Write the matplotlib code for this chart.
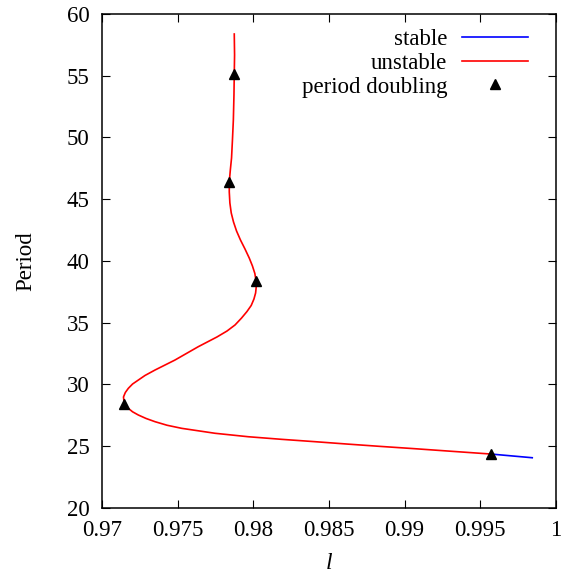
import matplotlib
matplotlib.use("Agg")
import matplotlib.pyplot as plt

plt.rcParams['font.family'] = ['Liberation Serif', 'DejaVu Serif']
plt.rcParams['mathtext.fontset'] = 'custom'
plt.rcParams['mathtext.it'] = 'Liberation Serif:italic'

# Unstable branch (red), from top down to the last period-doubling point
l_unstable = [0.97874, 0.97876, 0.97874, 0.97872, 0.97868, 0.97862, 0.97856, 0.97848,
              0.97841, 0.97841, 0.97845, 0.97854, 0.97869, 0.97889, 0.97915, 0.97945,
              0.97973, 0.97994, 0.98010, 0.98018, 0.98019, 0.98015, 0.98004, 0.97986,
              0.97958, 0.97922, 0.97879, 0.97826, 0.97760, 0.97636, 0.97482, 0.97350,
              0.97284, 0.97240, 0.97202, 0.97174, 0.97154, 0.97142, 0.97147, 0.97159,
              0.97174, 0.97202, 0.97240, 0.97291, 0.97350, 0.97430, 0.97527, 0.97747,
              0.97967, 0.98187, 0.98407, 0.98617, 0.98837, 0.99057, 0.99300, 0.99569]
T_unstable = [58.38, 56.68, 55.14, 53.44, 51.42, 49.80, 48.34, 47.37,
              46.40, 45.59, 44.70, 43.89, 43.16, 42.43, 41.70, 40.97,
              40.24, 39.60, 38.99, 38.38, 37.89, 37.41, 36.92, 36.40,
              35.91, 35.38, 34.82, 34.33, 33.85, 33.06, 31.98, 31.17,
              30.73, 30.36, 30.04, 29.69, 29.35, 28.99, 28.46, 28.26,
              28.07, 27.79, 27.53, 27.25, 26.99, 26.70, 26.45, 26.05,
              25.77, 25.56, 25.37, 25.18, 24.99, 24.81, 24.60, 24.37]

# Stable branch (blue)
l_stable = [0.99569, 0.99843]
T_stable = [24.37, 24.07]

# Period doubling points
l_pd = [0.97874, 0.97841, 0.98018, 0.97147, 0.99569]
T_pd = [55.14, 46.40, 38.38, 28.46, 24.37]

xticks = [0.97, 0.975, 0.98, 0.985, 0.99, 0.995, 1.0]
xticklabels = ['0.97', '0.975', '0.98', '0.985', '0.99', '0.995', '1']
yticks = [20, 25, 30, 35, 40, 45, 50, 55, 60]

fig = plt.figure(figsize=(5.62, 5.77), dpi=100)
ax = fig.add_axes([102/562, 69/577, 454/562, 494/577])

ax.plot(l_stable, T_stable, color='#0000ff', lw=1.2, label='stable',
        solid_joinstyle='round')
ax.plot(l_unstable, T_unstable, color='#ff0000', lw=1.2, label='unstable',
        solid_joinstyle='round')
ax.plot(l_pd, T_pd, linestyle='none', marker='^', color='black', markersize=7.5,
        label='period doubling')

ax.set_xlim(0.97, 1.0)
ax.set_ylim(20, 60)
ax.set_xticks(xticks)
ax.set_xticklabels(xticklabels)
ax.set_yticks(yticks)
ax.tick_params(direction='in', length=6, width=0.8, top=True, right=True,
               labelsize=16.5, pad=9)
for s in ax.spines.values():
    s.set_linewidth(1.1)

ax.set_xlabel('$l$', fontsize=17, labelpad=8)
ax.set_ylabel('Period', fontsize=16.5, labelpad=22)

h, lab = ax.get_legend_handles_labels()
ax.legend(h, lab, loc='upper right', markerfirst=False, frameon=False,
          fontsize=16.5, handlelength=2.9, handletextpad=0.65, labelspacing=0.12,
          borderaxespad=0.25, bbox_to_anchor=(0.972, 1.0))

fig.savefig('out.png', dpi=100)
